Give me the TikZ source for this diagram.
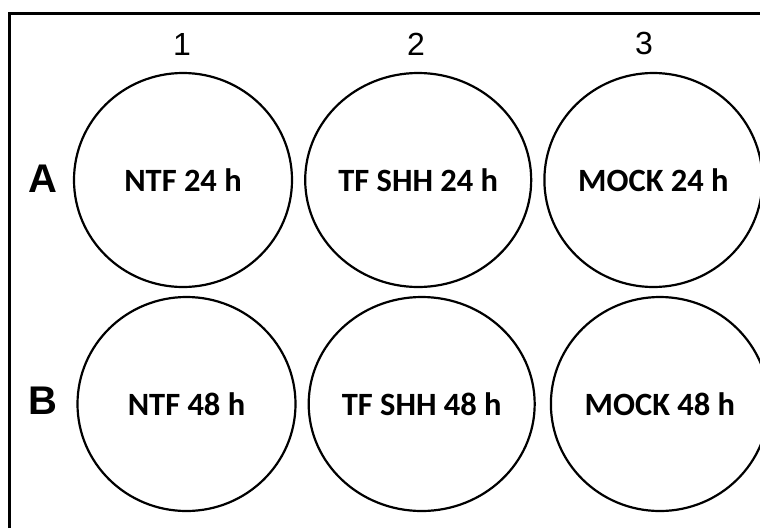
\documentclass[tikz,border=0pt]{standalone}
\usepackage{fontspec}
\setmainfont{Carlito}
\newfontfamily\arialfont{Liberation Sans}
\usepackage{tikz}
\usetikzlibrary{shapes.geometric, positioning}
\tikzset{
    well/.style={ellipse, draw, line width=2.2pt, minimum width=218pt, minimum height=214pt, inner sep=0pt, align=center, font=\fontsize{32.5}{36}\selectfont\bfseries},
    collabel/.style={inner sep=0pt, font=\arialfont\fontsize{32}{36}\selectfont},
    rowlabel/.style={inner sep=0pt, font=\arialfont\fontsize{40}{44}\selectfont\bfseries},
    frame/.style={line width=3pt}
}

\begin{document}
\begin{tikzpicture}[x=1pt, y=-1pt]
    \useasboundingbox (0,0) rectangle (760,528);

    % Plate edge (top and left only)
    \draw[frame] (9.5,528) -- (9.5,13.5) -- (760,13.5);

    % Row A
    \node[well] (A1) at (183,180) {NTF 24 h};
    \node[well, right=11pt of A1] (A2) {TF SHH 24 h};
    \node[well, right=11pt of A2] (A3) {MOCK 24 h};

    % Row B
    \node[well] (B1) at (186.5,404) {NTF 48 h};
    \node[well, right=11pt of B1] (B2) {TF SHH 48 h};
    \node[well, right=14pt of B2] (B3) {MOCK 48 h};

    % Column numbers
    \node[collabel] (c1) at (182,44) {1};
    \node[collabel] (c2) at (416,44) {2};
    \node[collabel] (c3) at (644,43) {3};

    % Row letters
    \node[rowlabel] (rA) at (42.5,179) {A};
    \node[rowlabel] (rB) at (42.5,401) {B};

\end{tikzpicture}
\end{document}
